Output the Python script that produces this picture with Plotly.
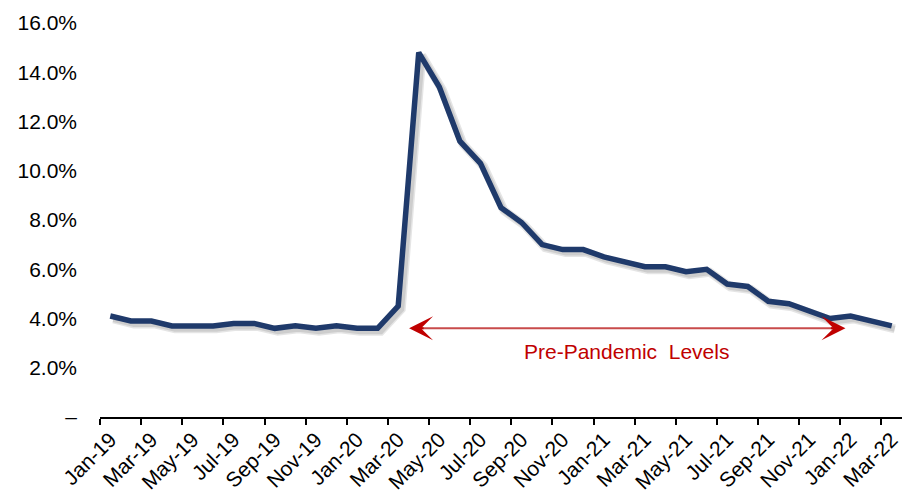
import plotly.graph_objects as go

months = ["Jan-19", "Feb-19", "Mar-19", "Apr-19", "May-19", "Jun-19", "Jul-19", "Aug-19", "Sep-19", "Oct-19", "Nov-19", "Dec-19",
          "Jan-20", "Feb-20", "Mar-20", "Apr-20", "May-20", "Jun-20", "Jul-20", "Aug-20", "Sep-20", "Oct-20", "Nov-20", "Dec-20",
          "Jan-21", "Feb-21", "Mar-21", "Apr-21", "May-21", "Jun-21", "Jul-21", "Aug-21", "Sep-21", "Oct-21", "Nov-21", "Dec-21",
          "Jan-22", "Feb-22", "Mar-22"]
rate = [4.1, 3.9, 3.9, 3.7, 3.7, 3.7, 3.8, 3.8, 3.6, 3.7, 3.6, 3.7,
        3.6, 3.6, 4.5, 14.8, 13.4, 11.2, 10.3, 8.5, 7.9, 7.0, 6.8, 6.8,
        6.5, 6.3, 6.1, 6.1, 5.9, 6.0, 5.4, 5.3, 4.7, 4.6, 4.3, 4.0,
        4.1, 3.9, 3.7]
y_tickvals = [0, 2, 4, 6, 8, 10, 12, 14, 16]
y_ticktext = ["\u2013", "2.0%", "4.0%", "6.0%", "8.0%", "10.0%", "12.0%", "14.0%", "16.0%"]
annotation_text = "Pre-Pandemic\u00a0 Levels"

FONT = "Arial, Liberation Sans, sans-serif"
NAVY = "#1F3A6B"
XR = [-0.5, 38.5]
YR = [0, 16]
dx = 0.15   # shadow offset in category units
dy = 0.12   # shadow offset in value units

fig = go.Figure()
# shadow
fig.add_trace(go.Scatter(x=months, y=rate, mode="lines", xaxis="x2", yaxis="y2",
                         line=dict(color="rgba(0,0,0,0.10)", width=9), hoverinfo="skip", showlegend=False))
fig.add_trace(go.Scatter(x=months, y=rate, mode="lines", xaxis="x2", yaxis="y2",
                         line=dict(color="rgba(0,0,0,0.10)", width=6), hoverinfo="skip", showlegend=False))
# main line
fig.add_trace(go.Scatter(x=months, y=rate, mode="lines", xaxis="x3", yaxis="y3",
                         line=dict(color=NAVY, width=5.5), showlegend=False))

# page body has an 8px margin, so the figure is 8px smaller and margins shifted
fig.update_layout(
    width=905, height=483,
    margin=dict(l=92, r=11, t=15, b=74, autoexpand=False),
    paper_bgcolor="white", plot_bgcolor="white",
    font=dict(family=FONT, color="#000000"),
    showlegend=False,
    xaxis=dict(type="category", categoryorder="array", categoryarray=months, range=XR,
               tickmode="linear", tick0=0, dtick=2, tickson="boundaries",
               ticks="outside", ticklen=6, tickwidth=2, tickcolor="black",
               showline=True, linecolor="black", linewidth=2,
               showgrid=False, zeroline=False, tickangle=-45, automargin=False,
               tickfont=dict(size=21, family=FONT, color="black")),
    yaxis=dict(range=YR, tickmode="array", tickvals=y_tickvals, ticktext=y_ticktext,
               showgrid=False, zeroline=False, showline=False, ticks="",
               ticklabelstandoff=22, automargin=False,
               tickfont=dict(size=21, family=FONT, color="black")),
    xaxis2=dict(type="category", categoryorder="array", categoryarray=months,
                range=[XR[0] - dx, XR[1] - dx], overlaying="x", visible=False),
    yaxis2=dict(range=[YR[0] + dy, YR[1] + dy], overlaying="y", visible=False),
    xaxis3=dict(type="category", categoryorder="array", categoryarray=months,
                range=XR, overlaying="x", visible=False),
    yaxis3=dict(range=YR, overlaying="y", visible=False),
)

# arrow shaft
arrow_y = 3.6
left_tip, right_tip = 14.53, 35.75
fig.add_shape(type="line", xref="x", yref="y", x0=left_tip + 0.4, x1=right_tip - 0.4,
              y0=arrow_y, y1=arrow_y, line=dict(color="#C84B4B", width=2))
for tip, off in [(left_tip, 16), (right_tip, -16)]:
    fig.add_annotation(x=tip, y=arrow_y, xref="x", yref="y", ax=off, ay=0, text="",
                       showarrow=True, arrowhead=3, arrowsize=2.0, arrowwidth=2,
                       arrowcolor="#C00000", standoff=0)
fig.add_annotation(x=25.1, y=2.65, xref="x", yref="y", text=annotation_text, showarrow=False,
                   font=dict(size=21, family=FONT, color="#C00000"))

fig.write_html("out.html")
